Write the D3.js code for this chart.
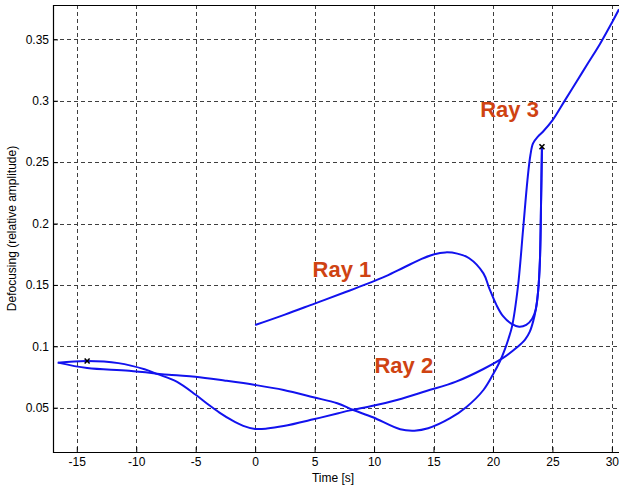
<!DOCTYPE html>
<html>
<head>
<meta charset="utf-8">
<script src="https://cdn.jsdelivr.net/npm/d3@7"></script>
<style>
  html, body { margin: 0; padding: 0; background: #fff; }
  svg { display: block; font-family: "Liberation Sans", Arial, Helvetica, sans-serif; }
</style>
</head>
<body>
<svg id="chart" width="619" height="485"></svg>
<script>
// Axis ticks
const xTicks = [-15, -10, -5, 0, 5, 10, 15, 20, 25, 30];
const yTicks = [0.05, 0.1, 0.15, 0.2, 0.25, 0.3, 0.35];
const yTickLabels = ["0.05", "0.1", "0.15", "0.2", "0.25", "0.3", "0.35"];

// Ray 1: time [s] and defocusing
const ray1T = [0, 2.5, 5, 7.5, 9.4, 11, 12.5, 14, 15, 16, 17, 18.0, 19.2, 19.7, 20.3, 20.85, 21.5, 22.2, 22.8, 23.3, 23.6, 23.8, 23.95, 24.05, 24.12];
const ray1D = [0.1173, 0.1258, 0.1348, 0.1438, 0.1508, 0.1572, 0.1642, 0.1712, 0.1748, 0.1765, 0.1755, 0.1717, 0.1594, 0.1470, 0.1335, 0.1245, 0.1187, 0.1160, 0.1175, 0.1225, 0.1300, 0.1450, 0.1700, 0.2200, 0.2625];

// Ray 2: upper left branch, minimum near t = 0, back up to the marker
const ray2T = [-16.6, -14.13, -11.5, -9.3, -8.2, -6.6, -5.0, -4.0, -3.0, -2.0, -1.0, 0, 1.0, 2.4, 4.9, 7.0, 8.0, 10.0, 12.0, 14.4, 16.9, 19.2, 20.85, 22.0, 22.7, 23.1, 23.4, 23.6, 23.8, 23.95, 24.05, 24.12];
const ray2D = [0.0867, 0.0880, 0.0863, 0.0813, 0.0773, 0.0712, 0.0605, 0.0530, 0.0460, 0.0400, 0.0352, 0.0327, 0.0330, 0.0350, 0.0405, 0.0455, 0.0478, 0.0517, 0.0565, 0.0636, 0.0712, 0.0815, 0.0905, 0.0990, 0.1055, 0.1120, 0.1210, 0.1300, 0.1450, 0.1700, 0.2200, 0.2625];

// Ray 3: lower left branch, minimum near t = 13.5, rising past the cusp
const ray3T = [-16.6, -14.13, -10.6, -7.0, -5.04, -2.5, 0, 2.4, 4.9, 6.9, 8.25, 9.9, 12.2, 13.4, 14.55, 16.4, 17.8, 19.2, 20.0, 20.6, 21.0, 21.3, 21.6, 22.1, 22.53, 22.9, 23.15, 23.37, 23.8, 24.2, 25, 26, 27, 28, 29, 30, 30.6];
const ray3D = [0.0867, 0.0823, 0.0801, 0.0766, 0.0752, 0.0720, 0.0685, 0.0644, 0.0585, 0.0536, 0.0481, 0.0422, 0.0324, 0.0313, 0.0332, 0.0414, 0.0508, 0.0644, 0.0770, 0.0880, 0.0975, 0.1060, 0.1160, 0.1485, 0.1947, 0.2354, 0.2558, 0.2653, 0.2710, 0.2748, 0.2840, 0.2995, 0.3151, 0.3307, 0.3463, 0.3636, 0.3745];

// Marked points
const markT = [-14.13, 24.12];
const markD = [0.0880, 0.2625];

// Ray labels
const labelText = ["Ray 1", "Ray 2", "Ray 3"];
const labelT = [7.3, 12.5, 21.4];
const labelD = [0.1565, 0.0782, 0.2865];

const svg = d3.select("#chart");
const padL = 53, padR = 619, padT = 5, padB = 452;

const x = d3.scaleLinear().domain([-17, 30.6]).range([padL, padR]);
const y = d3.scaleLinear().domain([0.0139, 0.378]).range([padB, padT]);

svg.append("defs").append("clipPath").attr("id", "plotclip")
  .append("rect").attr("x", padL).attr("y", padT)
  .attr("width", padR - padL).attr("height", padB - padT);

// Dashed grid
const grid = svg.append("g").attr("stroke", "#000").attr("stroke-width", 1)
  .attr("stroke-dasharray", "4,3").attr("opacity", 0.75);
grid.selectAll("line.vx").data(xTicks).join("line")
  .attr("x1", d => Math.round(x(d)) + 0.5).attr("x2", d => Math.round(x(d)) + 0.5)
  .attr("y1", padT).attr("y2", padB);
grid.selectAll("line.hy").data(yTicks).join("line")
  .attr("y1", d => Math.round(y(d)) + 0.5).attr("y2", d => Math.round(y(d)) + 0.5)
  .attr("x1", padL).attr("x2", padR);

// Axes with inward ticks
const xAxis = d3.axisBottom(x).tickValues(xTicks).tickSizeInner(-5).tickSizeOuter(0).tickPadding(5)
  .tickFormat(d => d);
const gx = svg.append("g").attr("transform", `translate(0,${padB})`).call(xAxis);
gx.select(".domain").remove();
gx.selectAll("text").attr("font-size", 12).attr("fill", "#000")
  .attr("font-family", "Liberation Sans, Arial, sans-serif");

const yAxis = d3.axisLeft(y).tickValues(yTicks).tickSizeInner(-5).tickSizeOuter(0).tickPadding(4)
  .tickFormat((d, i) => yTickLabels[i]);
const gy = svg.append("g").attr("transform", `translate(${padL},0)`).call(yAxis);
gy.select(".domain").remove();
gy.selectAll("text").attr("font-size", 12).attr("fill", "#000")
  .attr("font-family", "Liberation Sans, Arial, sans-serif");

// Frame
svg.append("path")
  .attr("d", `M${padL + 0.5},${padT + 0.5}H${padR}M${padL + 0.5},${padT}V${padB + 0.5}H${padR}`)
  .attr("fill", "none").attr("stroke", "#000").attr("stroke-width", 1.2);

// Curves
const line = d3.line().x(d => x(d[0])).y(d => y(d[1])).curve(d3.curveCatmullRom.alpha(0.5));
const rays = [
  d3.zip(ray1T, ray1D),
  d3.zip(ray2T, ray2D),
  d3.zip(ray3T, ray3D)
];
svg.append("g").attr("clip-path", "url(#plotclip)")
  .selectAll("path").data(rays).join("path")
  .attr("d", line)
  .attr("fill", "none").attr("stroke", "#1212ee").attr("stroke-width", 2)
  .attr("stroke-linejoin", "round");

// Markers
const mk = svg.append("g").attr("stroke", "#000").attr("stroke-width", 1.6);
d3.zip(markT, markD).forEach(([t, d]) => {
  const cx = x(t), cy = y(d), s = 2.5;
  mk.append("path").attr("d", `M${cx - s},${cy - s}L${cx + s},${cy + s}M${cx - s},${cy + s}L${cx + s},${cy - s}`);
});

// Ray labels
svg.append("g").selectAll("text").data(labelText).join("text")
  .attr("x", (d, i) => x(labelT[i]))
  .attr("y", (d, i) => y(labelD[i]))
  .attr("text-anchor", "middle")
  .attr("font-size", 22).attr("font-weight", "bold")
  .attr("fill", "#cf4312")
  .attr("font-family", "Liberation Sans, Arial, sans-serif")
  .text(d => d);

// Axis titles
svg.append("text").attr("x", (x(-17) + 619) / 2 - 3).attr("y", 482)
  .attr("text-anchor", "middle").attr("font-size", 12).text("Time [s]");
svg.append("text").attr("transform", `translate(16,${(padT + padB) / 2}) rotate(-90)`)
  .attr("text-anchor", "middle").attr("font-size", 12).text("Defocusing (relative amplitude)");
</script>
</body>
</html>
